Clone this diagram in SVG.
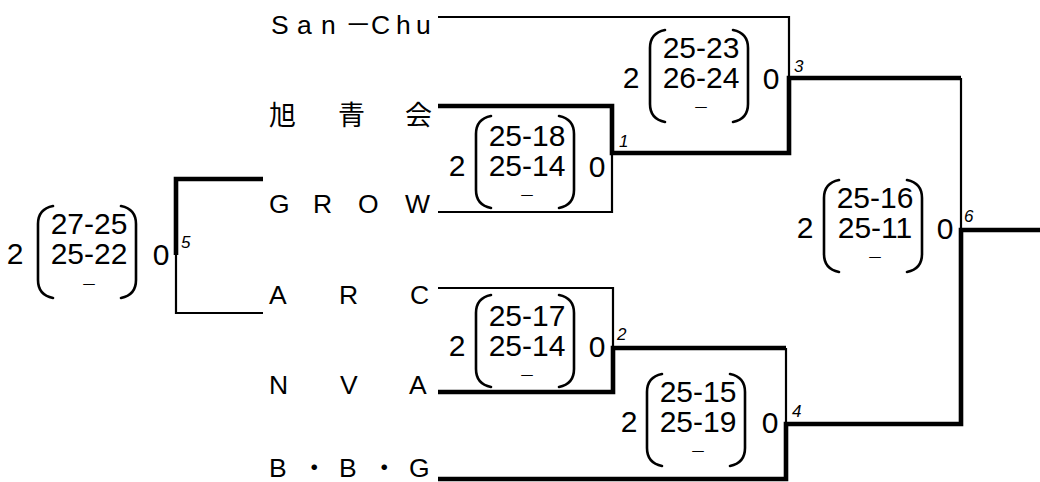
<svg xmlns="http://www.w3.org/2000/svg" xmlns:xlink="http://www.w3.org/1999/xlink" width="1040" height="482" viewBox="0 0 1040 482">
<style>
.t{font-family:"Liberation Sans","Noto Sans CJK JP",sans-serif;font-size:26.5px;fill:#000}
.cjk{font-family:"Noto Sans CJK JP",sans-serif;font-size:27px;fill:#000}
.s{font-family:"Liberation Sans",sans-serif;font-size:30px;fill:#000;text-anchor:middle}
.d{font-family:"Noto Sans CJK JP",sans-serif;font-size:16px;fill:#000;text-anchor:middle}
.n{font-family:"Liberation Sans",sans-serif;font-size:17px;font-style:italic;fill:#000}
.thin{stroke:#000;stroke-width:2.2;fill:none}
.thick{stroke:#000;stroke-width:4.6;fill:none}
.par{stroke:#000;stroke-width:2.6;fill:none;stroke-linecap:round}
</style>
<defs>
<path id="lp" class="par" d="M-36,-46 C-46,-44 -51,-38 -51,-28 V28 C-51,38 -46,44 -36,46"/>
<path id="rp" class="par" d="M32,-46 C42,-44 47,-38 47,-28 V28 C47,38 42,44 32,46"/>
</defs>
<rect width="1040" height="482" fill="#fff"/>

<g id="connectors">
<path class="thin" d="M438 17 H789 V78"/>
<path class="thin" d="M612 153 V212 H438"/>
<path class="thin" d="M438 288 H613 V348"/>
<path class="thin" d="M786 348 V424"/>
<path class="thin" d="M961 78 V230"/>
<path class="thin" d="M176 255 V313 H263"/>
<path class="thick" d="M438 106 H612 V153 H789 V78 H961"/>
<path class="thick" d="M438 392 H613 V348 H786"/>
<path class="thick" d="M438 479 H786 V424 H961 V230 H1040"/>
<path class="thick" d="M263 179 H176 V255"/>
</g>

<g id="team-sanchu"><text class="t" x="271 297 321 345 371 396 416" y="34">San－Chu</text></g>
<g id="team-kyokuseikai"><text class="cjk" x="269 338 405" y="125">旭青会</text></g>
<g id="team-grow"><text class="t" x="269 313 358 405" y="213">GROW</text></g>
<g id="team-arc"><text class="t" x="269 339 410" y="304">ARC</text></g>
<g id="team-nva"><text class="t" x="269 340 409" y="394">NVA</text></g>
<g id="team-bbg"><text class="t" x="269 301 339 371 409" y="477">B・B・G</text></g>

<g id="match1">
<g transform="translate(527 162)">
<use xlink:href="#lp"/><use xlink:href="#rp"/>
<text class="s" x="0" y="-16">25-18</text>
<text class="s" x="0" y="14">25-14</text>
<text class="d" x="0" y="39">－</text>
<text class="s" x="-70" y="14">2</text>
<text class="s" x="70" y="15">0</text>
</g>
<text class="n" x="619" y="147">1</text>
</g>

<g id="match2">
<g transform="translate(527 341)">
<use xlink:href="#lp"/><use xlink:href="#rp"/>
<text class="s" x="0" y="-15">25-17</text>
<text class="s" x="0" y="15">25-14</text>
<text class="d" x="0" y="40">－</text>
<text class="s" x="-70" y="15">2</text>
<text class="s" x="70" y="16">0</text>
</g>
<text class="n" x="617" y="340">2</text>
</g>

<g id="match3">
<g transform="translate(701 76)">
<use xlink:href="#lp"/><use xlink:href="#rp"/>
<text class="s" x="0" y="-18">25-23</text>
<text class="s" x="0" y="12">26-24</text>
<text class="d" x="0" y="37">－</text>
<text class="s" x="-70" y="12">2</text>
<text class="s" x="70" y="13">0</text>
</g>
<text class="n" x="794" y="72">3</text>
</g>

<g id="match4">
<g transform="translate(698 420)">
<use xlink:href="#lp"/><use xlink:href="#rp"/>
<text class="s" x="0" y="-18">25-15</text>
<text class="s" x="0" y="12">25-19</text>
<text class="d" x="0" y="37">－</text>
<text class="s" x="-69" y="12">2</text>
<text class="s" x="72" y="13">0</text>
</g>
<text class="n" x="792" y="417">4</text>
</g>

<g id="match5">
<g transform="translate(89 252)">
<use xlink:href="#lp"/><use xlink:href="#rp"/>
<text class="s" x="0" y="-18">27-25</text>
<text class="s" x="0" y="12">25-22</text>
<text class="d" x="0" y="38">－</text>
<text class="s" x="-74" y="12">2</text>
<text class="s" x="72" y="13">0</text>
</g>
<text class="n" x="181" y="248">5</text>
</g>

<g id="match6">
<g transform="translate(875 226)">
<use xlink:href="#lp"/><use xlink:href="#rp"/>
<text class="s" x="0" y="-18">25-16</text>
<text class="s" x="0" y="12">25-11</text>
<text class="d" x="0" y="37">－</text>
<text class="s" x="-70" y="12">2</text>
<text class="s" x="70" y="13">0</text>
</g>
<text class="n" x="964" y="222">6</text>
</g>
</svg>
